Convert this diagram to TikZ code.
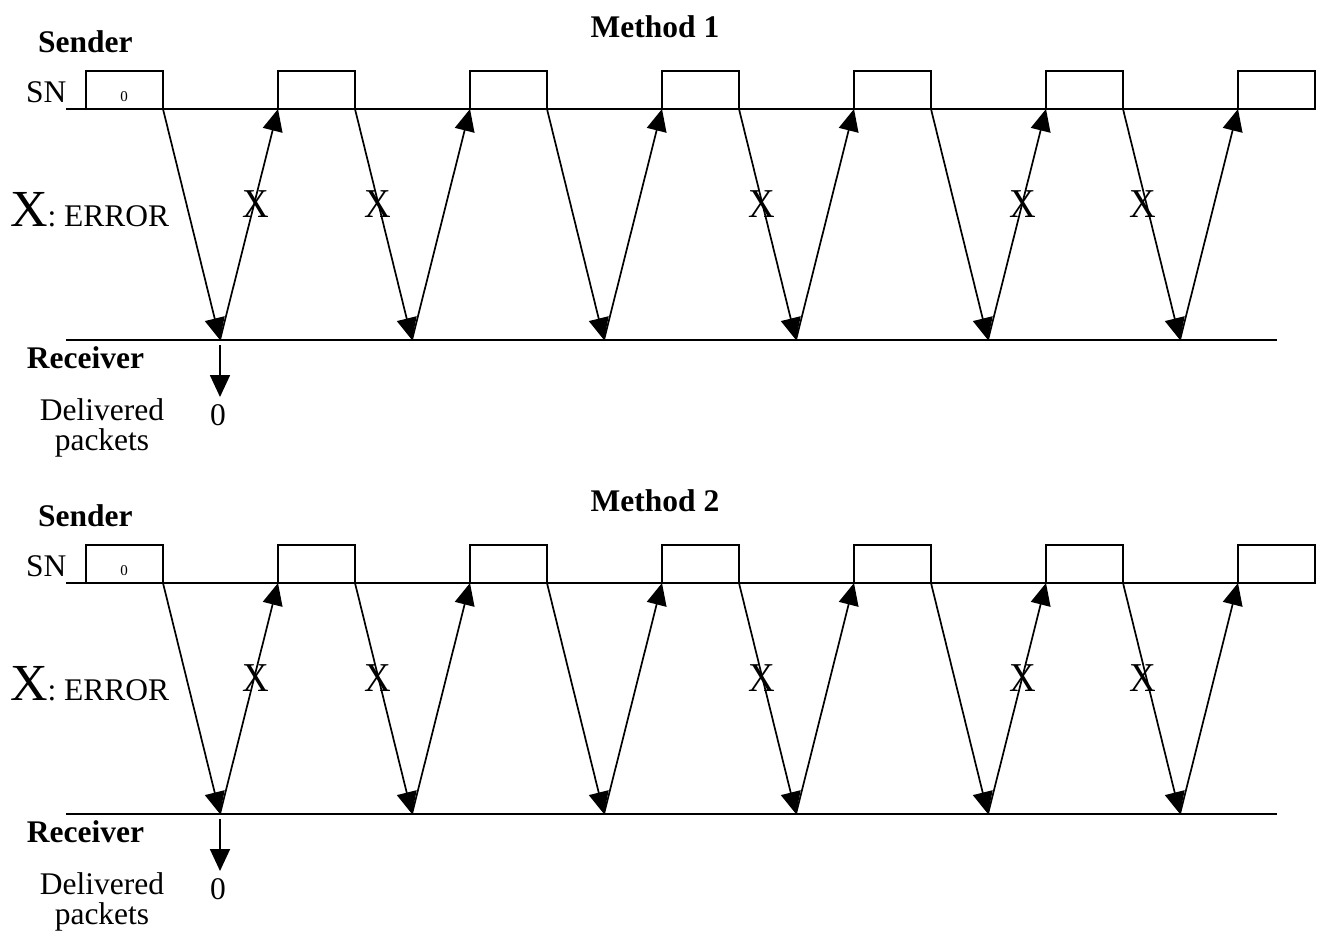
\documentclass[tikz,border=0pt]{standalone}
\usepackage{fontspec}
\setmainfont{Liberation Serif}
\usetikzlibrary{arrows.meta}
\begin{document}
\begin{tikzpicture}[x=1pt,y=-1pt,line width=2pt,
  pkt/.style={draw,line width=2pt,inner sep=0pt,outer sep=0pt,minimum width=77pt,minimum height=38pt,anchor=south west},
  arr/.style={-{Triangle[length=22pt,width=20pt]},line width=1.7pt},
  txt/.style={inner sep=0pt,outer sep=0pt,font=\fontsize{31.5}{30}\selectfont},
  boldtxt/.style={inner sep=0pt,outer sep=0pt,font=\fontsize{31.5}{30}\selectfont\bfseries},
  xmark/.style={inner sep=0pt,outer sep=0pt,anchor=base,xscale=0.9,font=\fontsize{41}{41}\selectfont},
  small/.style={inner sep=0pt,outer sep=0pt,anchor=base,font=\fontsize{15}{15}\selectfont}]
\useasboundingbox (0,0) rectangle (1317,935);
\foreach \p/\dy in {1/0,2/474}{
\begin{scope}[yshift=-\dy pt]
  % title and side labels
  \node[boldtxt,anchor=base] (m\p) at (655,37) {Method \p};
  \node[boldtxt,anchor=base west] (snd\p) at (38,52) {Sender};
  \node[txt,anchor=base west] (sn\p) at (26,102) {SN};
  \node[inner sep=0pt,anchor=base west] (err\p) at (9,226) {{\fontsize{52}{52}\selectfont X}{\fontsize{31.5}{30}\selectfont: ERROR}};
  \node[boldtxt,anchor=base west] (rcv\p) at (27,368) {Receiver};
  \node[txt,align=center,anchor=center] (dlv\p) at (102,428) {Delivered\\packets};
  % time lines
  \coordinate (sl\p) at (66,109);
  \coordinate (sr\p) at (1315,109);
  \coordinate (rl\p) at (66,340);
  \coordinate (rr\p) at (1277,340);
  \draw (sl\p) -- (sr\p);
  \draw (rl\p) -- (rr\p);
  % packets
  \foreach \i in {0,...,6}{
    \node[pkt] (b\p-\i) at ({86+192*\i},109) {};
  }
  \node[small] (z\p) at (124,101) {0};
  % reception points
  \foreach \j in {1,...,6}{
    \coordinate (r\p-\j) at ({220+192*(\j-1)},340);
  }
  \foreach \j [evaluate=\j as \k using int(\j-1)] in {1,...,6}{
    \draw[arr] (b\p-\k.south east) -- (r\p-\j);
    \draw[arr] (r\p-\j) -- (b\p-\j.south west);
  }
  % errors
  \foreach \x in {256,378,762,1023,1143}{
    \node[xmark] (x\p-\x) at (\x,217) {X};
  }
  % delivered
  \coordinate (da\p) at (220,345);
  \coordinate (db\p) at (220,397);
  \draw[arr] (da\p) -- (db\p);
  \node[txt,anchor=base] (d\p) at (218,425) {0};
\end{scope}
}
\end{tikzpicture}
\end{document}
